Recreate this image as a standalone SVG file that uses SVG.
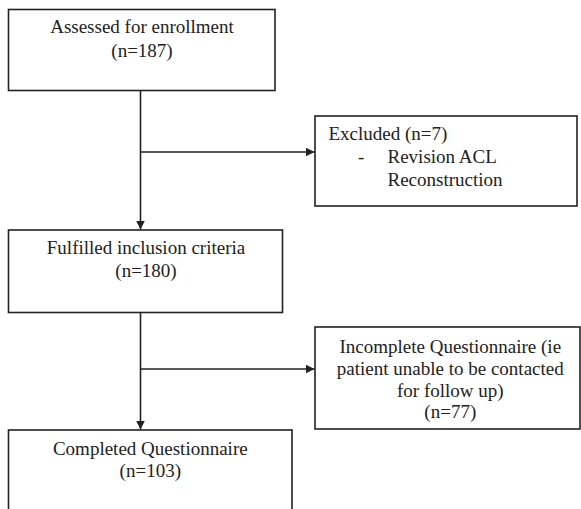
<svg xmlns="http://www.w3.org/2000/svg" width="581" height="509" viewBox="0 0 581 509">
<style>
.box{fill:#fff;stroke:#222;stroke-width:1.6}
.ln{fill:none;stroke:#222;stroke-width:1.6}
.t{font-family:'Liberation Serif','Times New Roman','DejaVu Serif',serif;font-size:19px;fill:#222}
.c{text-anchor:middle}
</style>
<defs>
<marker id="ah" viewBox="0 0 10 10" refX="10" refY="5" markerWidth="9" markerHeight="9" markerUnits="userSpaceOnUse" orient="auto">
<path d="M0,0 L10,5 L0,10 z" fill="#222"/>
</marker>
</defs>
<rect width="581" height="509" fill="#fff"/>
<g id="connectors">
<path class="ln" d="M140.5,90.5 V229.5" marker-end="url(#ah)"/>
<path class="ln" d="M140.5,152 H314.5" marker-end="url(#ah)"/>
<path class="ln" d="M140.5,312.5 V429.5" marker-end="url(#ah)"/>
<path class="ln" d="M140.5,369 H314.5" marker-end="url(#ah)"/>
</g>
<g id="assessed" class="t" font-family="Liberation Serif, serif">
<rect class="box" x="8.5" y="9.5" width="266.5" height="81"/>
<text class="c" x="142" y="33">Assessed for enrollment</text>
<text class="c" x="142" y="56.5">(n=187)</text>
</g>
<g id="excluded" class="t" font-family="Liberation Serif, serif">
<rect class="box" x="315" y="116" width="262" height="90"/>
<text x="328.5" y="140">Excluded (n=7)</text>
<text x="358" y="163">-</text>
<text x="387.5" y="163">Revision ACL</text>
<text x="387.5" y="186">Reconstruction</text>
</g>
<g id="fulfilled" class="t" font-family="Liberation Serif, serif">
<rect class="box" x="8.5" y="230" width="274" height="82.5"/>
<text class="c" x="146" y="254">Fulfilled inclusion criteria</text>
<text class="c" x="146" y="277">(n=180)</text>
</g>
<g id="incomplete" class="t" font-family="Liberation Serif, serif">
<rect class="box" x="315" y="327" width="265" height="102"/>
<text class="c" x="450.3" y="352.7">Incomplete Questionnaire (ie</text>
<text class="c" x="450.3" y="374.7">patient unable to be contacted</text>
<text class="c" x="450.3" y="396.7">for follow up)</text>
<text class="c" x="450.3" y="418.3">(n=77)</text>
</g>
<g id="completed" class="t" font-family="Liberation Serif, serif">
<rect class="box" x="8.5" y="430" width="283.5" height="100"/>
<text class="c" x="150.3" y="455">Completed Questionnaire</text>
<text class="c" x="150.3" y="477">(n=103)</text>
</g>
</svg>
